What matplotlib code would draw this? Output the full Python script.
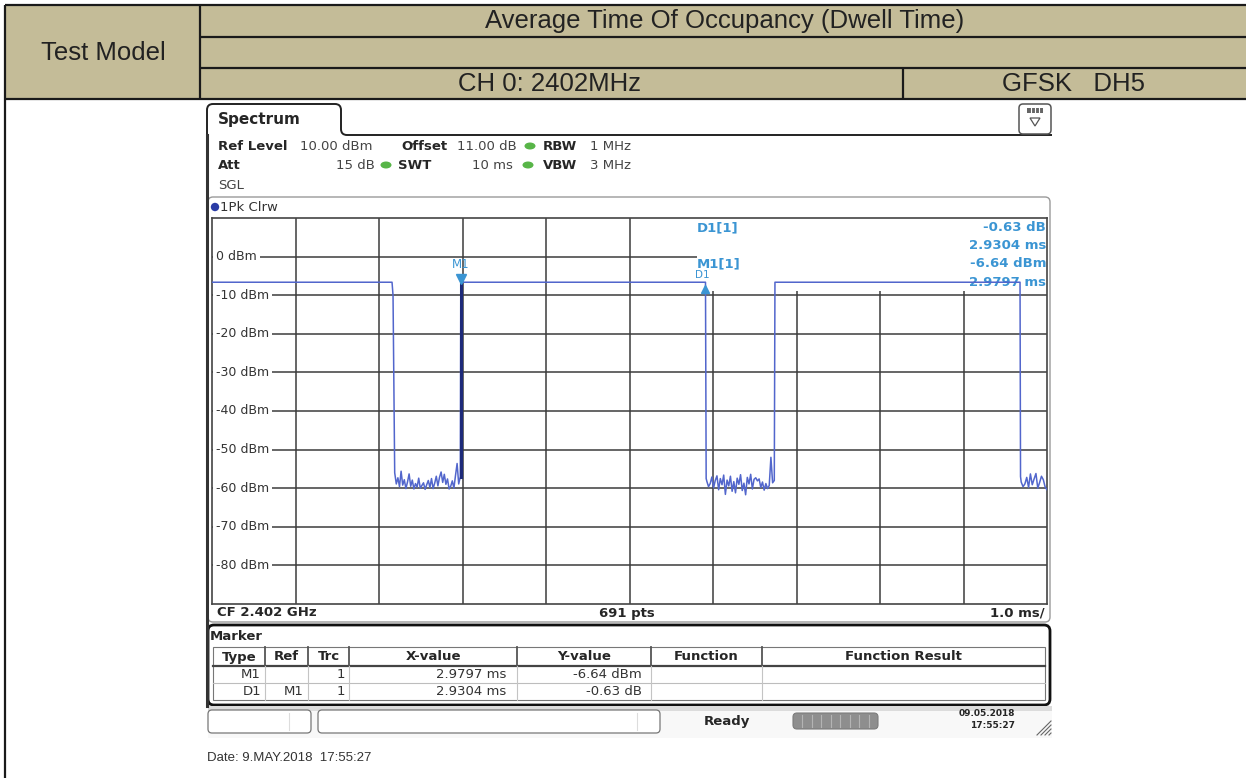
import numpy as np
import matplotlib
matplotlib.use("Agg")
import matplotlib.pyplot as plt
from matplotlib.patches import Rectangle, FancyBboxPatch, Ellipse, Circle, PathPatch, Polygon
from matplotlib.path import Path

# ── Data ─────────────────────────────────────────────────────────────────────
sweep_ms   = (0.0, 10.0)          # 1.0 ms/div, 691 pts
level_db   = (-90.0, 10.0)        # ref level 10 dBm, 10 dB/div
grid_db    = [0, -10, -20, -30, -40, -50, -60, -70, -80]
burst_db   = -6.64

# burst edges (ms)
fall1 = 2.156
m1_x  = 2.9797                    # M1 (rising edge)
d1_dx = 2.9304                    # D1 relative to M1
rise2 = 6.742
fall3 = 9.677

# noise floor between bursts (dBm)
low1 = [-56.0, -58.9, -57.3, -59.6, -55.6, -59.2, -57.8, -60.1, -58.4, -56.3,
        -59.5, -57.9, -60.2, -58.8, -59.7, -57.4, -60.0, -59.3, -58.6, -60.3,
        -59.1, -58.0, -59.8, -57.5, -60.1, -58.7, -56.9, -59.4, -57.2, -55.8,
        -58.5, -56.4, -59.0, -57.6, -60.2, -59.5, -58.1, -60.0, -56.7, -53.6,
        -58.9, -57.0]
low2 = [-58.2, -59.6, -58.8, -57.1, -59.9, -58.0, -56.8, -60.4, -57.5, -59.1,
        -56.6, -61.6, -57.9, -59.4, -56.9, -60.8, -58.3, -61.2, -57.4, -59.0,
        -56.5, -60.6, -58.7, -61.7, -57.2, -58.9, -56.4, -60.2, -57.7, -57.3,
        -58.1, -57.6, -59.8, -58.4, -60.5, -58.8, -60.1, -59.3, -52.0, -58.6,
        -58.0]
low3 = [-58.4, -59.6, -58.9, -57.2, -59.8, -56.3, -59.1, -57.6, -56.2, -60.0,
        -58.5, -56.9, -57.8, -59.7, -60.4]

marker_info = [("D1[1]", "-0.63 dB", "2.9304 ms"), ("M1[1]", "-6.64 dBm", "2.9797 ms")]
table_cols  = ["Type", "Ref", "Trc", "X-value", "Y-value", "Function", "Function Result"]
table_rows  = [("M1", "", "1", "2.9797 ms", "-6.64 dBm"),
               ("D1", "M1", "1", "2.9304 ms", "-0.63 dB")]

# ── Colours ──────────────────────────────────────────────────────────────────
KHAKI  = "#c4bc98"
TRACE  = "#5266cc"
EDGE   = "#1d2a7a"
MARK   = "#3b95d3"
GRID   = "#3c3c3c"
TXT    = "#262626"

W, H = 1246, 778
fig = plt.figure(figsize=(W / 100, H / 100), dpi=100, facecolor="white")

# pixel-space canvas for the report table and instrument chrome
bg = fig.add_axes([0, 0, 1, 1], zorder=0)
bg.set_xlim(0, W)
bg.set_ylim(H, 0)
bg.axis("off")

# ── Report table header ──────────────────────────────────────────────────────
bg.add_patch(Rectangle((5, 5), W - 5, 94, fc=KHAKI, ec="none"))
lk = dict(color="#1a1a1a", lw=1.6, solid_capstyle="butt")
bg.plot([5, W], [5, 5], **lk)
bg.plot([200, W], [37, 37], **lk)
bg.plot([200, W], [68, 68], **lk)
bg.plot([5, W], [99, 99], **lk)
bg.plot([5, 5], [5, H], **lk)
bg.plot([200, 200], [5, 99], **lk)
bg.plot([903, 903], [68, 99], **lk)

hf = dict(family="Liberation Sans", fontsize=18.5, color="#222222", ha="center", va="center")
bg.text(103, 53, "Test Model", **hf)
bg.text(725, 21, "Average Time Of Occupancy (Dwell Time)", **hf)
bg.text(550, 84, "CH 0: 2402MHz", **hf)
bg.text(1073, 84, "GFSK   DH5", **hf)

# ── Instrument chrome ────────────────────────────────────────────────────────
tab = Path([(207, 136), (207, 110), (207, 104), (213, 104), (335, 104),
            (341, 104), (341, 110), (341, 129), (341, 135), (347, 135), (1052, 135)],
           [Path.MOVETO, Path.LINETO, Path.CURVE3, Path.CURVE3, Path.LINETO,
            Path.CURVE3, Path.CURVE3, Path.LINETO, Path.CURVE3, Path.CURVE3, Path.LINETO])
bg.add_patch(PathPatch(tab, fc="none", ec="#222222", lw=1.4))
bg.text(218, 119, "Spectrum", fontsize=11, fontweight="bold", color=TXT, va="center")

# menu icon top right
bg.add_patch(FancyBboxPatch((1019, 104), 32, 30, boxstyle="round,pad=0,rounding_size=4",
                            fc="white", ec="#555555", lw=1.1))
bg.add_patch(Rectangle((1027, 108), 16, 5, fc="#666666", ec="none"))
for k in range(3):
    bg.plot([1031 + 4 * k] * 2, [108, 113], color="white", lw=0.8)
bg.add_patch(Polygon([(1030, 118), (1040, 118), (1035, 126)], closed=True,
                     fc="white", ec="#555555", lw=0.9))

fs = 9.5
def lab(x, y, s, bold=False, ha="left", color=TXT, size=fs):
    bg.text(x, y, s, fontsize=size, fontweight="bold" if bold else "normal",
            color=color, ha=ha, va="center")

def dot(x, y):
    bg.add_patch(Ellipse((x, y), 11, 7, fc="#58b548", ec="none"))

lab(218, 146, "Ref Level", True)
lab(300, 146, "10.00 dBm", color="#444444")
lab(401, 146, "Offset", True)
lab(457, 146, "11.00 dB", color="#444444")
dot(530, 146)
lab(543, 146, "RBW", True)
lab(590, 146, "1 MHz", color="#444444")
lab(218, 165, "Att", True)
lab(375, 165, "15 dB", ha="right", color="#444444")
dot(386, 165)
lab(398, 165, "SWT", True)
lab(513, 165, "10 ms", ha="right", color="#444444")
dot(528, 165)
lab(543, 165, "VBW", True)
lab(590, 165, "3 MHz", color="#444444")
lab(218, 185, "SGL", color="#444444")

# diagram panel
bg.add_patch(FancyBboxPatch((208, 197), 842, 425, boxstyle="round,pad=0,rounding_size=5",
                            fc="white", ec="#9a9a9a", lw=1.0))
bg.plot([207, 207], [135, 706], color="#333333", lw=2.2)
bg.add_patch(Circle((215, 207), 4.2, fc="#2a3ca5", ec="none"))
lab(220, 207, "1Pk Clrw", color="#333333")

lab(217, 613, "CF 2.402 GHz", True)
lab(627, 613, "691 pts", True, ha="center")
lab(1045, 613, "1.0 ms/", True, ha="right")

# marker table panel
bg.add_patch(FancyBboxPatch((208, 625), 842, 80, boxstyle="round,pad=0,rounding_size=6",
                            fc="white", ec="#111111", lw=2.0))
lab(210, 637, "Marker", True)
col_x = [213, 265, 308, 349, 517, 651, 762, 1045]
bg.add_patch(Rectangle((213, 647), 832, 53, fc="none", ec="#777777", lw=0.8))
bg.plot([213, 1045], [666, 666], color="#444444", lw=1.6)
bg.plot([213, 1045], [683, 683], color="#bdbdbd", lw=0.8)
for x in col_x[1:-1]:
    bg.plot([x, x], [647, 666], color="#555555", lw=1.3)
    bg.plot([x, x], [666, 700], color="#c4c4c4", lw=0.8)
for i, name in enumerate(table_cols):
    lab((col_x[i] + col_x[i + 1]) / 2, 657, name, True, ha="center")
right_x = [261, 304, 345, 506, 642]
for r, row in enumerate(table_rows):
    for x, s in zip(right_x, row):
        if s:
            lab(x, 675 + 16.5 * r, s, ha="right", color="#333333")

# status bar
bg.add_patch(Rectangle((208, 706), 844, 5, fc="#dcdcdc", ec="none"))
bg.add_patch(Rectangle((208, 711), 844, 27, fc="#f8f8f8", ec="none"))
bg.add_patch(FancyBboxPatch((208, 710), 103, 23, boxstyle="round,pad=0,rounding_size=4",
                            fc="white", ec="#777777", lw=0.9))
bg.add_patch(FancyBboxPatch((318, 710), 342, 23, boxstyle="round,pad=0,rounding_size=4",
                            fc="white", ec="#777777", lw=0.9))
bg.plot([289, 289], [713, 730], color="#dddddd", lw=0.8)
bg.plot([637, 637], [713, 730], color="#dddddd", lw=0.8)
lab(727, 721, "Ready", True, ha="center")
bg.add_patch(FancyBboxPatch((793, 713), 85, 16, boxstyle="round,pad=0,rounding_size=4",
                            fc="#8e8e8e", ec="#7c7c7c", lw=0.8))
for k in range(1, 9):
    bg.plot([793 + 9.45 * k] * 2, [715, 727], color="#b4b4b4", lw=0.8)
lab(1015, 714, "09.05.2018", True, ha="right", size=6.5)
lab(1015, 726, "17:55:27", True, ha="right", size=6.5)
for k in range(4):
    bg.plot([1037 + 4 * k, 1051], [735, 721 + 4 * k], color="#666666", lw=0.8)

bg.text(207, 758, "Date: 9.MAY.2018  17:55:27", family="Liberation Sans",
        fontsize=9.5, color="#333333", va="center")

# ── Spectrum diagram ─────────────────────────────────────────────────────────
L, T, R, B = 212, 218, 1047, 604
sp = fig.add_axes([L / W, 1 - B / H, (R - L) / W, (B - T) / H], zorder=1)
sp.set_xlim(*sweep_ms)
sp.set_ylim(*level_db)
sp.set_xticks([])
sp.set_yticks([])
for s in sp.spines.values():
    s.set_color("#444444")
    s.set_linewidth(1.2)

def px(x, y):
    """pixel position on the page -> diagram coordinates"""
    return ((x - L) / (R - L) * 10.0, 10.0 - (y - T) / (B - T) * 100.0)

for k in range(1, 10):
    sp.axvline(k, color=GRID, lw=1.1, zorder=1)
for db in grid_db:
    sp.axhline(db, color=GRID, lw=1.1, zorder=1)
    sp.text(0.045, db, f"{db} dBm", fontsize=9, color="#333333", va="center", ha="left",
            zorder=2, bbox=dict(fc="white", ec="none", pad=2.2))

# marker info area hides the grid
x0, y0 = px(697, 291)
sp.add_patch(Rectangle((x0, y0), 10 - x0, 10 - y0, fc="white", ec="none", zorder=1.5))

d1_x = m1_x + d1_dx
t = ([0.0, fall1, fall1 + 0.012] +
     list(np.linspace(fall1 + 0.032, m1_x - 0.006, len(low1))) +
     [m1_x, d1_x, d1_x + 0.008] +
     list(np.linspace(d1_x + 0.016, rise2 - 0.008, len(low2))) +
     [rise2, fall3, fall3 + 0.006] +
     list(np.linspace(fall3 + 0.014, 10.0, len(low3))))
v = ([burst_db, burst_db, -10.0] + low1 +
     [burst_db, burst_db, -57.5] + low2 +
     [burst_db, burst_db, -57.0] + low3)
sp.plot(t, v, color=TRACE, lw=1.1, zorder=4)
sp.plot([m1_x, m1_x], [low1[-1], burst_db], color=EDGE, lw=2.2, zorder=5)

# markers
sp.plot(m1_x, px(0, 279)[1], marker="v", ms=7, color=MARK, zorder=6)
sp.text(m1_x, px(0, 265)[1], "M1", fontsize=8.5, color=MARK, ha="center", va="center", zorder=6)
sp.plot(d1_x, px(0, 289)[1], marker="^", ms=6, color=MARK, zorder=6)
sp.text(d1_x - 0.04, px(0, 275)[1], "D1", fontsize=7.5, color=MARK, ha="center", va="center", zorder=6)

rows_y = [228, 246, 264, 283]
for i, (name, val, pos) in enumerate(marker_info):
    xa, ya = px(697, rows_y[2 * i])
    _, yb = px(0, rows_y[2 * i + 1])
    sp.text(xa, ya, name, fontsize=9.5, fontweight="bold", color=MARK, va="center", zorder=3)
    sp.text(9.99, ya, val, fontsize=9.5, fontweight="bold", color=MARK, va="center", ha="right", zorder=3)
    sp.text(9.99, yb, pos, fontsize=9.5, fontweight="bold", color=MARK, va="center", ha="right", zorder=3)

fig.savefig("out.png", dpi=100, facecolor="white")
